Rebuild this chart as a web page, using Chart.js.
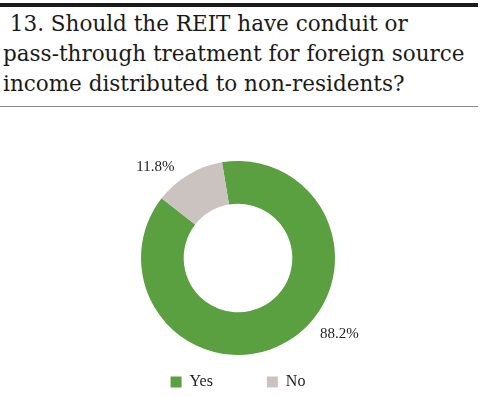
<!DOCTYPE html>
<html>
<head>
<meta charset="utf-8">
<script src="https://cdn.jsdelivr.net/npm/chart.js@4/dist/chart.umd.min.js"></script>
<style>
  html, body { margin: 0; padding: 0; background: #fff; }
  body { width: 480px; height: 398px; position: relative; overflow: hidden; }
  .rule-top { position: absolute; left: 0; top: 3px; width: 478px; height: 4px; background: #1a1a1a; }
  .title {
    position: absolute; left: 3px; top: 9px; width: 477px;
    font-family: "DejaVu Serif", serif; font-size: 21.5px; line-height: 30px;
    color: #1a1a1a; white-space: nowrap;
  }
  .rule-bottom { position: absolute; left: 0; top: 106px; width: 478px; height: 1px; background: #8a8a8a; }
  .wrap { position: absolute; left: 0; top: 110px; width: 480px; height: 290px; }
</style>
</head>
<body>
<div class="rule-top"></div>
<div class="title">&nbsp;13. Should the REIT have conduit or<br>pass-through treatment for foreign source<br>income distributed to non-residents?</div>
<div class="rule-bottom"></div>
<div class="wrap"><canvas id="chart"></canvas></div>
<script>
(() => {
    'use strict';

    const CATEGORIES = ['Yes', 'No'];
    const VALUES = [88.2, 11.8];
    const COLORS = ['#5aa040', '#cbc3c0'];
    // where along each arc the outside label sits (fraction of the sweep)
    const LABEL_POS = [0.43, 0.23];

    const SERIF = '"Liberation Serif", "Times New Roman", serif';

    const outsideLabels = {
        id: 'outsideLabels',
        afterDatasetsDraw(chart) {
            const ctx = chart.ctx;
            const meta = chart.getDatasetMeta(0);
            ctx.save();
            ctx.font = '15px ' + SERIF;
            ctx.fillStyle = '#222';
            ctx.textAlign = 'center';
            ctx.textBaseline = 'middle';
            meta.data.forEach((arc, i) => {
                const p = arc.getProps(['x', 'y', 'startAngle', 'endAngle', 'outerRadius'], true);
                const a = p.startAngle + (p.endAngle - p.startAngle) * LABEL_POS[i];
                const r = p.outerRadius + (i === 0 ? 30 : 26);
                ctx.fillText(VALUES[i].toFixed(1) + '%', p.x + Math.cos(a) * r, p.y + Math.sin(a) * r);
            });
            ctx.restore();
        }
    };

    new Chart(document.getElementById('chart').getContext('2d'), {
        type: 'doughnut',
        data: {
            labels: CATEGORIES,
            datasets: [{
                data: VALUES,
                backgroundColor: COLORS,
                borderWidth: 0
            }]
        },
        options: {
            responsive: true,
            maintainAspectRatio: false,
            animation: false,
            cutout: '56%',
            rotation: -9.5,
            layout: { padding: { top: 51, bottom: 0, left: 0, right: 4 } },
            plugins: {
                legend: {
                    position: 'bottom',
                    // empty title only pushes the entries down a little
                    title: { display: true, text: '', font: { size: 9, lineHeight: 1 }, padding: 0 },
                    labels: {
                        color: '#222',
                        boxWidth: 11,
                        boxHeight: 11,
                        padding: 10,
                        font: { family: SERIF, size: 16 },
                        // wider gap between the two entries, as in the original
                        generateLabels: chart => Chart.controllers.doughnut.overrides.plugins.legend.labels
                            .generateLabels(chart)
                            .map((item, i) => ({ ...item, text: i === 0 ? item.text + '\u00a0'.repeat(11) : item.text }))
                    }
                },
                tooltip: { enabled: false }
            }
        },
        plugins: [outsideLabels]
    });
})();
</script>
</body>
</html>
